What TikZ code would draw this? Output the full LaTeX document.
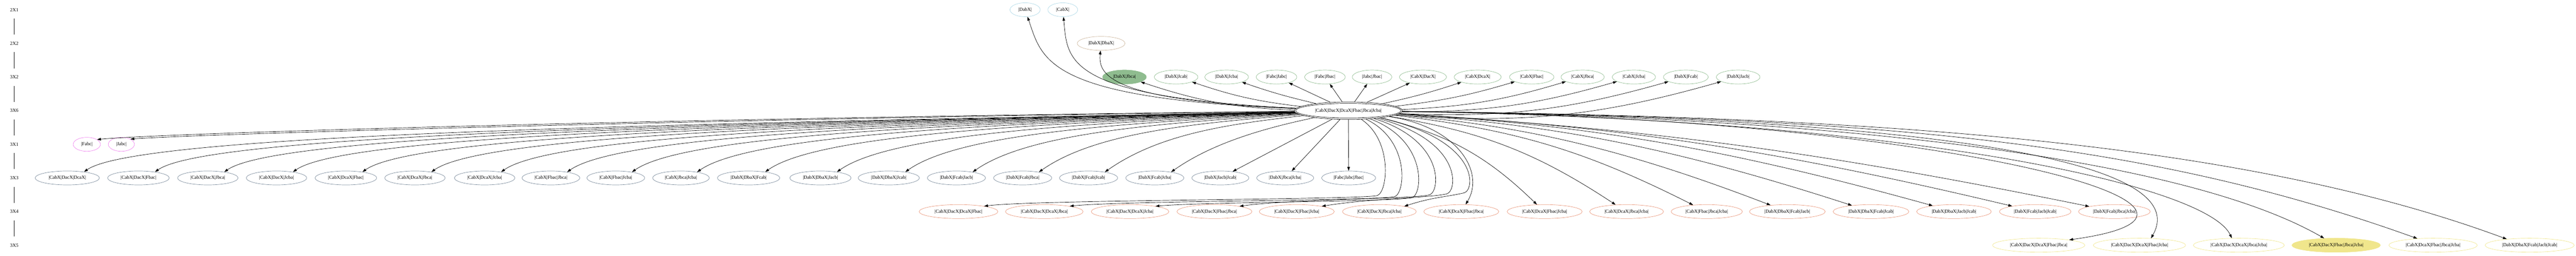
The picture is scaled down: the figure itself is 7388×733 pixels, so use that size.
\documentclass[tikz,border=0pt]{standalone}
\usepackage{fontspec}
\setmainfont{Liberation Serif}
\usetikzlibrary{shapes.geometric,arrows.meta}
\definecolor{cblue}{HTML}{ADD8E6}
\definecolor{ctan}{HTML}{CDB79E}
\definecolor{cgreen}{HTML}{8FBC8F}
\definecolor{cviolet}{HTML}{EE82EE}
\definecolor{cslate}{HTML}{778899}
\definecolor{csalmon}{HTML}{E9967A}
\definecolor{ckhaki}{HTML}{F0E68C}
\newcommand{\gfs}{\fontsize{13.75pt}{16pt}\selectfont}
\begin{document}
\begin{tikzpicture}[x=1pt,y=1pt,
  nd/.style={ellipse, draw, line width=1pt, inner xsep=11.5pt, inner ysep=1pt, minimum height=40pt, font=\gfs},
  lb/.style={inner sep=0pt, minimum height=50pt, font=\gfs},
  arr/.style={line width=1pt, -{Triangle[length=11pt,width=7.5pt]}},
  rk/.style={line width=1pt},
  rowa/.style={nd, draw=cblue},
  rowb/.style={nd, draw=ctan},
  rowc/.style={nd, draw=cgreen},
  rowe/.style={nd, draw=cviolet},
  rowf/.style={nd, draw=cslate},
  rowg/.style={nd, draw=csalmon},
  rowh/.style={nd, draw=ckhaki}]
\useasboundingbox (0,0) rectangle (7388,733);

% rank labels
\foreach \t/\y [count=\i from 0] in {2X1/705,2X2/608.5,3X2/512,3X6/415.5,3X1/319,3X3/222.5,3X4/126,3X5/29.5}
  \node[lb] (l\i) at (41,\y) {\t};
\foreach \i in {0,...,6} {
  \pgfmathtruncatemacro\j{\i+1}
  \draw[rk] (l\i) -- (l\j);
}

% hub
\node[nd, minimum width=310pt, minimum height=50pt] (hub) at (3867,415.5) {|CabX|DacX|DcaX|Fbac|Jbca|Jcba|};
\draw[line width=1pt] (hub.center) ellipse [x radius=151pt, y radius=21pt];

% rank 2X1, 2X2
\node[rowa] (t1) at (2940,705) {|DabX|};
\node[rowa] (t2) at (3048,705) {|CabX|};
\node[rowb] (t3) at (3158,608.5) {|DabX|DbaX|};

% rank 3X2
\foreach \x/\t [count=\i] in {3225/{|DabX|Jbca|},3373/{|DabX|Jcab|},3518/{|DabX|Jcba|},3661/{|Fabc|Jabc|},3800/{|Fabc|Jbac|},3935/{|Jabc|Jbac|},4081/{|CabX|DacX|},4238/{|CabX|DcaX|},4393/{|CabX|Fbac|},4539/{|CabX|Jbca|},4686/{|CabX|Jcba|},4835/{|DabX|Fcab|},4985/{|DabX|Jacb|}}
  \node[rowc] (g\i) at (\x,512) {\t};
\node[rowc, fill=cgreen] at (g1) {|DabX|Jbca|};

% rank 3X1
\node[rowe] (f1) at (249,319) {|Fabc|};
\node[rowe] (f2) at (348,319) {|Jabc|};

% rank 3X3
\foreach \x/\t [count=\i] in {193/{|CabX|DacX|DcaX|},397/{|CabX|DacX|Fbac|},596/{|CabX|DacX|Jbca|},793/{|CabX|DacX|Jcba|},992/{|CabX|DcaX|Fbac|},1190/{|CabX|DcaX|Jbca|},1390/{|CabX|DcaX|Jcba|},1580/{|CabX|Fbac|Jbca|},1766/{|CabX|Fbac|Jcba|},1953/{|CabX|Jbca|Jcba|},2147/{|DabX|DbaX|Fcab|},2353/{|DabX|DbaX|Jacb|},2549/{|DabX|DbaX|Jcab|},2743/{|DabX|Fcab|Jacb|},2933/{|DabX|Fcab|Jbca|},3122/{|DabX|Fcab|Jcab|},3312/{|DabX|Fcab|Jcba|},3500/{|DabX|Jacb|Jcab|},3686/{|DabX|Jbca|Jcba|},3868/{|Fabc|Jabc|Jbac|}}
  \node[rowf] (c\i) at (\x,222.5) {\t};

% rank 3X4
\foreach \x/\t [count=\i] in {2749/{|CabX|DacX|DcaX|Fbac|},2995/{|CabX|DacX|DcaX|Jbca|},3241/{|CabX|DacX|DcaX|Jcba|},3483/{|CabX|DacX|Fbac|Jbca|},3719/{|CabX|DacX|Fbac|Jcba|},3956/{|CabX|DacX|Jbca|Jcba|},4191/{|CabX|DcaX|Fbac|Jbca|},4430/{|CabX|DcaX|Fbac|Jcba|},4665/{|CabX|DcaX|Jbca|Jcba|},4895/{|CabX|Fbac|Jbca|Jcba|},5126/{|DabX|DbaX|Fcab|Jacb|},5366/{|DabX|DbaX|Fcab|Jcab|},5604/{|DabX|DbaX|Jacb|Jcab|},5837/{|DabX|Fcab|Jacb|Jcab|},6064/{|DabX|Fcab|Jbca|Jcba|}}
  \node[rowg] (d\i) at (\x,126) {\t};

% rank 3X5
\foreach \x/\t [count=\i] in {5847/{|CabX|DacX|DcaX|Fbac|Jbca|},6136/{|CabX|DacX|DcaX|Fbac|Jcba|},6421/{|CabX|DacX|DcaX|Jbca|Jcba|},6700/{|CabX|DacX|Fbac|Jbca|Jcba|},6978/{|CabX|DcaX|Fbac|Jbca|Jcba|},7255/{|DabX|DbaX|Fcab|Jacb|Jcab|}}
  \node[rowh] (e\i) at (\x,29.5) {\t};
\node[rowh, fill=ckhaki] at (e4) {|CabX|DacX|Fbac|Jbca|Jcba|};

% edges up
\draw[arr] (hub) .. controls (3000,450) and (2990,560) .. (t1);
\draw[arr] (hub) .. controls (3050,455) and (3062,560) .. (t2);
\draw[arr] (hub) .. controls (3175,445) and (3150,520) .. (t3);

\draw[arr] (hub) to[bend left=8] (g1);
\draw[arr] (hub) to[bend left=6] (g2);
\draw[arr] (hub) to[bend left=3] (g3);
\draw[arr] (hub) -- (g4);
\draw[arr] (hub) -- (g5);
\draw[arr] (hub) -- (g6);
\draw[arr] (hub) -- (g7);
\draw[arr] (hub) to[bend right=3] (g8);
\draw[arr] (hub) to[bend right=5] (g9);
\draw[arr] (hub) to[bend right=7] (g10);
\draw[arr] (hub) to[bend right=8] (g11);
\draw[arr] (hub) to[bend right=9] (g12);
\draw[arr] (hub) to[bend right=10] (g13);

% edges to 3X1
\draw[arr] (hub) .. controls (2000,395) and (480,352) .. (f1.25);
\draw[arr] (hub) .. controls (2050,392) and (560,348) .. (f2.30);

% edges to 3X3 (left, curved)
\foreach \tx [count=\i] in {193,397,596,793,992,1190,1390,1580,1766,1953,2147,2353,2549,2743,2933,3122,3312} {
  \pgfmathsetmacro\ex{\tx+46}
  \pgfmathsetmacro\dd{3714-\ex}
  \pgfmathsetmacro\LL{min(200,0.35*\dd)}
  \pgfmathsetmacro\bx{\ex+\LL*cos(35)}
  \pgfmathsetmacro\by{239+\LL*sin(35)}
  \pgfmathsetmacro\ax{3714+0.5*(\bx-3714)}
  \pgfmathsetmacro\ay{405+0.5*(\by-405)}
  \draw[arr] (hub) .. controls (\ax,\ay) and (\bx,\by) .. (c\i.20);
}
\draw[arr] (hub) -- (c18);
\draw[arr] (hub) -- (c19);
\draw[arr] (hub) -- (c20);

% edges to 3X4 (left)
\foreach \tx/\xk/\yr [count=\i] in {2749/3950/160,2995/4000/157,3241/4050/154,3483/4100/162,3719/4150/165,3956/4200/168} {
  \pgfmathsetmacro\px{min(\tx+220,\xk-90)}
  \draw[arr] (hub) .. controls (\xk+45,330) and (\xk+30,\yr+22) .. (\xk,\yr+12)
     .. controls (\xk-50,\yr) and (\px,\yr) .. (d\i.12);
}
\draw[arr] (hub) .. controls (4180,370) and (4260,240) .. (d7);
\draw[arr] (hub) to[bend left=15] (d8);
\draw[arr] (hub) to[bend left=12] (d9);
\draw[arr] (hub) to[bend left=10] (d10);
\draw[arr] (hub) .. controls (4371,372) and (4654,307) .. (d11);
\draw[arr] (hub) .. controls (4463,374.5) and (4797,310) .. (d12);
\draw[arr] (hub) .. controls (4555,374) and (4940,310) .. (d13);
\draw[arr] (hub) .. controls (4645,370) and (5079,306) .. (d14);
\draw[arr] (hub) .. controls (4733,362.5) and (5214,299) .. (d15);

% edges to 3X5
\draw[arr] (hub) .. controls (5600,395) and (6550,130) .. (e1.10);
\draw[arr] (hub) .. controls (5500,395) and (6300,280) .. (e2.31);
\draw[arr] (hub) .. controls (5500,390) and (6330,200) .. (e3.135);
\draw[arr] (hub) .. controls (5400,395) and (6300,260) .. (e4.150);
\draw[arr] (hub) .. controls (5400,395) and (6150,330) .. (e5.157);
\draw[arr] (hub) .. controls (5300,398) and (6400,340) .. (e6.165);
\end{tikzpicture}
\end{document}
